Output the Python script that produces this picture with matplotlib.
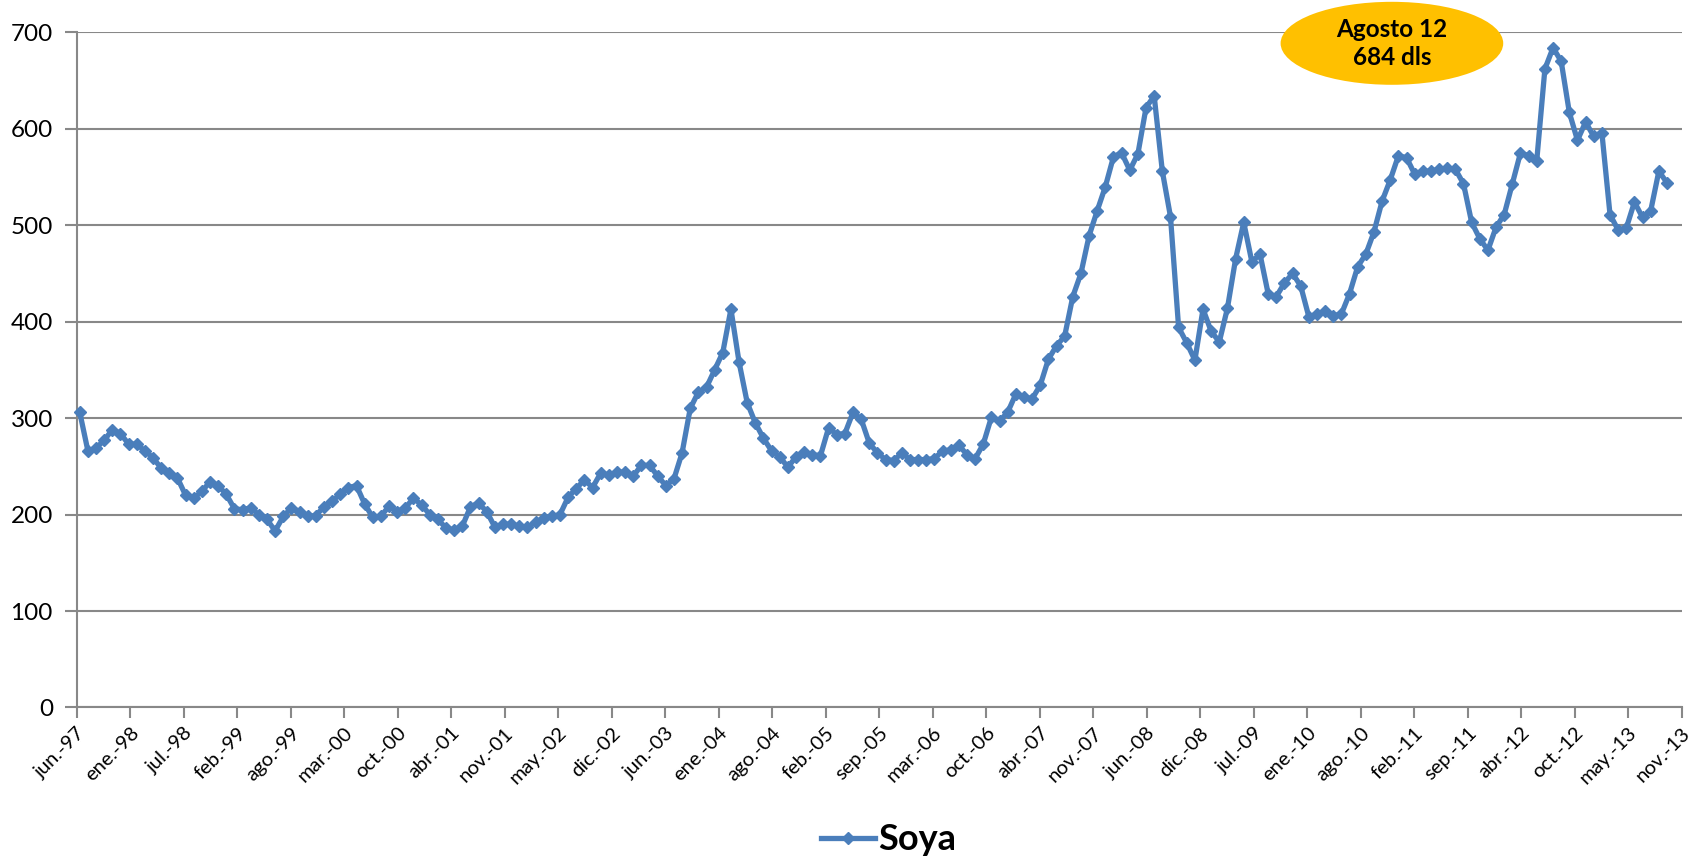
import matplotlib
matplotlib.use('Agg')
import matplotlib.pyplot as plt
from matplotlib.patches import Ellipse
import numpy as np

# monthly soybean price (dls), starting jun-97
soya = [
    306, 266, 269, 277, 288, 284, 273, 273, 266, 259,
    248, 243, 238, 220, 217, 224, 234, 230, 221, 206,
    205, 207, 200, 195, 183, 198, 207, 203, 198, 199,
    208, 214, 221, 228, 230, 211, 197, 198, 209, 203,
    207, 217, 210, 200, 195, 186, 184, 188, 208, 212,
    203, 187, 190, 190, 188, 187, 192, 196, 198, 200,
    218, 227, 236, 228, 243, 241, 244, 244, 240, 251,
    251, 240, 230, 237, 264, 310, 327, 332, 350, 368,
    413, 358, 316, 295, 279, 266, 260, 249, 260, 265,
    262, 261, 290, 283, 284, 306, 299, 274, 264, 257,
    256, 264, 257, 257, 257, 258, 266, 267, 272, 262,
    258, 273, 301, 297, 306, 325, 322, 320, 334, 361,
    375, 385, 426, 450, 489, 515, 540, 571, 575, 557,
    574, 622, 634, 556, 509, 394, 378, 360, 413, 390,
    379, 414, 465, 503, 462, 470, 429, 426, 440, 450,
    437, 405, 408, 411, 406, 408, 429, 457, 470, 493,
    525, 547, 572, 570, 553, 556, 556, 558, 559, 558,
    543, 503, 486, 474, 498, 511, 543, 575, 572, 567,
    662, 684, 670, 617, 588, 607, 592, 596, 511, 495,
    497, 524, 508, 515, 556, 544,
]

x_labels = ['jun.-97', 'ene.-98', 'jul.-98', 'feb.-99', 'ago.-99', 'mar.-00',
            'oct.-00', 'abr.-01', 'nov.-01', 'may.-02', 'dic.-02', 'jun.-03',
            'ene.-04', 'ago.-04', 'feb.-05', 'sep.-05', 'mar.-06', 'oct.-06',
            'abr.-07', 'nov.-07', 'jun.-08', 'dic.-08', 'jul.-09', 'ene.-10',
            'ago.-10', 'feb.-11', 'sep.-11', 'abr.-12', 'oct.-12', 'may.-13',
            'nov.-13']
y_ticks = [0, 100, 200, 300, 400, 500, 600, 700]
note = 'Agosto 12\n684 dls'

plt.rcParams['font.family'] = ['Lato', 'DejaVu Sans']

fig = plt.figure(figsize=(17, 8.59), dpi=100)
ax = fig.add_axes([0.045, 0.1764, 0.9442, 0.786])

blue = '#4A7EBB'
grey = '#888888'
months = np.arange(len(soya))
ax.plot(months, soya, color=blue, lw=3.8, marker='D', ms=6.5,
        mec=blue, mfc=blue, label='Soya', clip_on=False, zorder=3)

x0, x1 = -0.4, 196.8
ax.set_xlim(x0, x1)
ax.set_ylim(0, 700)
ax.set_xticks(np.linspace(x0, x1, len(x_labels)))
ax.set_xticklabels(x_labels, rotation=45, ha='right', rotation_mode='anchor',
                   fontsize=14.5)
ax.set_yticks(y_ticks)
ax.tick_params(axis='y', labelsize=17.5, length=9, width=1.5, color=grey, pad=8)
ax.tick_params(axis='x', length=8, width=1.5, color=grey, pad=4)
ax.grid(axis='y', color=grey, lw=1.5)
ax.set_axisbelow(True)
for side in ['top', 'right']:
    ax.spines[side].set_visible(False)
for side in ['left', 'bottom']:
    ax.spines[side].set_color(grey)
    ax.spines[side].set_linewidth(1.5)

# callout for the peak
ell = Ellipse((0.8195, 0.9837), 0.1387, 0.1229, transform=ax.transAxes,
              facecolor='#FFC000', edgecolor='none', clip_on=False, zorder=4)
ax.add_patch(ell)
ax.text(0.8195, 0.9837, note, transform=ax.transAxes, ha='center',
        va='center', fontsize=17.5, fontweight='bold', linespacing=1.25,
        zorder=5)

ax.legend(loc='center', bbox_to_anchor=(0.506, -0.196), frameon=False,
          prop={'size': 26, 'weight': 'bold'}, handlelength=1.5,
          handletextpad=0.1, markerscale=1.0)

fig.savefig('out.png', dpi=100)
